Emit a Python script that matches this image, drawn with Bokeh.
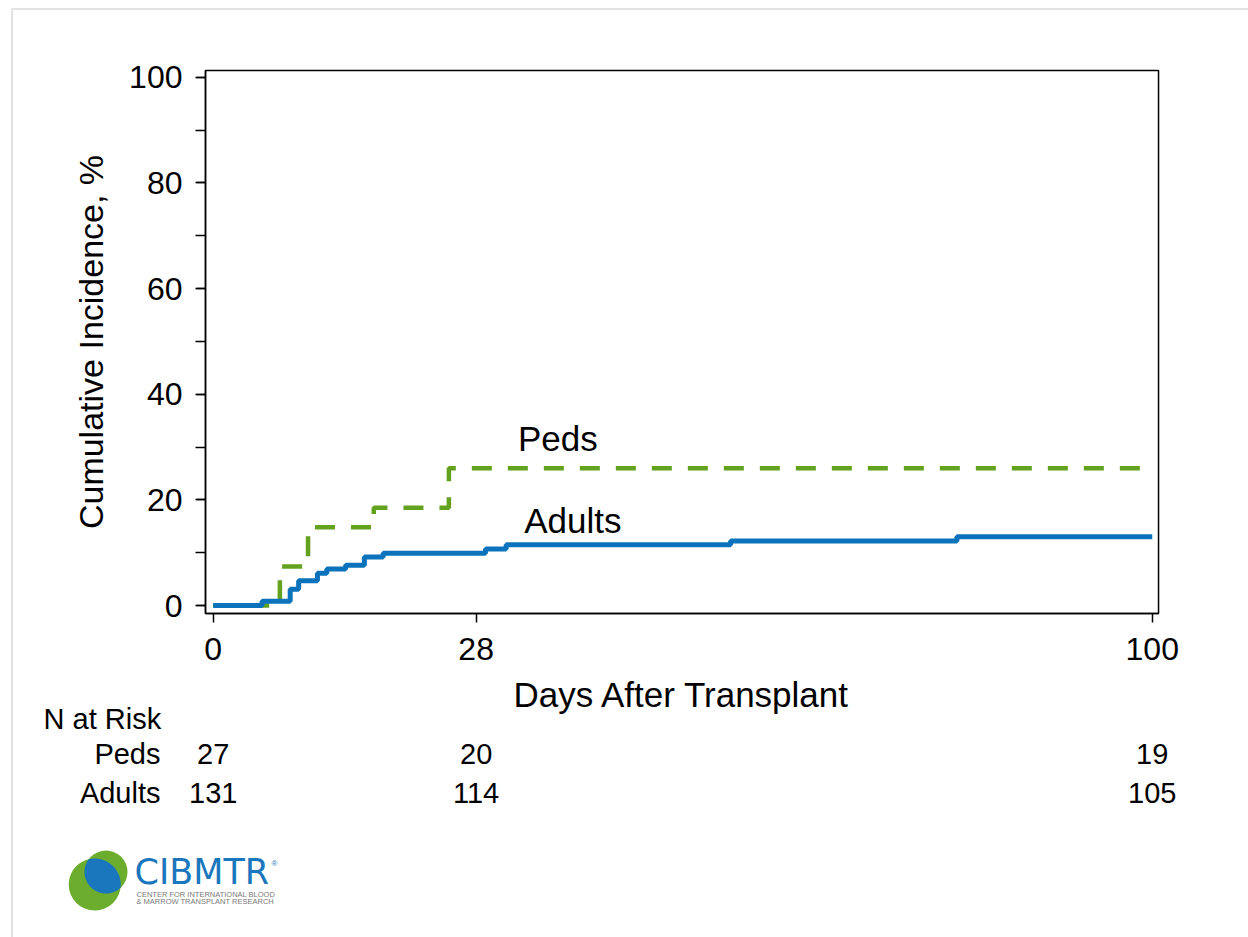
import numpy as np
from bokeh.plotting import figure
from bokeh.models import (Range1d, FixedTicker, SingleIntervalTicker, LabelSet,
                          ColumnDataSource, LinearAxis, BoxAnnotation)
from bokeh.embed import file_html
from bokeh.resources import INLINE
from bokeh.core.properties import value

# ---------------- data ----------------
peds_days = [0, 7.1, 10.1, 17.1, 25.1, 100]
peds_ci = [0, 7.4, 14.8, 18.5, 26.0, 26.0]
adult_days = [0, 5.2, 8.2, 9.1, 11.1, 12.1, 14.1, 16.1, 18.1, 29.0, 31.2, 55.1, 79.2, 100]
adult_ci = [0, 0.8, 3.1, 4.7, 6.1, 6.9, 7.6, 9.2, 9.9, 10.7, 11.5, 12.2, 13.0, 13.0]
x_ticks = [0, 28, 100]
risk_days = [0, 28, 100]
peds_at_risk = [27, 20, 19]
adults_at_risk = [131, 114, 105]
series_names = ["Peds", "Adults"]

FONT = "Liberation Sans"
GREEN = "#62A21F"
BLUE = "#0A73BB"

# plotting area limits (data units)
X0, X1 = -0.82, 100.67
Y0, Y1 = -1.51, 101.27

W, H = 1248, 937
p = figure(width=W, height=H,
           x_range=Range1d(-22.65, 110.25), y_range=Range1d(-62.84, 114.52),
           x_axis_location=None, y_axis_location=None,
           output_backend="svg", toolbar_location=None, min_border=0)
p.extra_x_ranges = {"px": Range1d(0, W)}
p.extra_y_ranges = {"px": Range1d(H, 0)}
p.xgrid.visible = False
p.ygrid.visible = False
p.outline_line_color = None
p.background_fill_color = "white"
p.border_fill_color = "white"


def texts(xs, ys, labels, size, align="left", color="black", font=FONT, px_x=False, px_y=False):
    src = ColumnDataSource(dict(x=list(xs), y=list(ys), t=[str(s) for s in labels]))
    kw = {}
    if px_x:
        kw["x_range_name"] = "px"
    if px_y:
        kw["y_range_name"] = "px"
    p.add_layout(LabelSet(x="x", y="y", text="t", source=src, text_align=align,
                          text_baseline="alphabetic", text_font=value(font),
                          text_font_size=size, text_color=color, **kw))


# slide border (light gray)
p.add_layout(BoxAnnotation(left=11.5, right=W + 20, top=8.5, bottom=H + 20,
                           x_range_name="px", y_range_name="px",
                           fill_alpha=0, line_color="#d9d9d9", line_alpha=1.0,
                           line_width=1.5))

# plot box
p.add_layout(BoxAnnotation(left=X0, right=X1, bottom=Y0, top=Y1,
                           fill_alpha=0, line_color="black", line_alpha=1.0,
                           line_width=1.5, level="underlay"))

p.step(peds_days, peds_ci, mode="after", line_color=GREEN, line_width=4.5,
       line_dash="20 16")
p.step(adult_days, adult_ci, mode="after", line_color=BLUE, line_width=5)

# axes
xa = LinearAxis(fixed_location=Y0, bounds=(X0, X1), ticker=FixedTicker(ticks=x_ticks))
ya = LinearAxis(fixed_location=X0, bounds=(Y0, Y1),
                ticker=SingleIntervalTicker(interval=20, num_minor_ticks=2))
for ax in (xa, ya):
    ax.axis_line_color = "black"
    ax.axis_line_width = 1.5
    ax.major_tick_line_color = "black"
    ax.major_tick_line_width = 1.5
    ax.minor_tick_line_color = "black"
    ax.minor_tick_line_width = 1.5
    ax.major_tick_in = 0
    ax.major_tick_out = 9
    ax.minor_tick_in = 0
    ax.major_label_text_font = FONT
    ax.major_label_text_font_size = "32px"
    ax.major_label_text_color = "black"
    ax.axis_label_text_font = FONT
    ax.axis_label_text_font_style = "normal"
    ax.axis_label_text_color = "black"
xa.axis_label_text_font_size = "35px"
ya.axis_label_text_font_size = "34px"
xa.minor_tick_out = 0
ya.minor_tick_out = 10
xa.major_label_standoff = 16
ya.major_label_standoff = 13
xa.axis_label = "Days After Transplant"
ya.axis_label = "Cumulative Incidence, %"
xa.axis_label_standoff = 11
ya.axis_label_standoff = 16
p.add_layout(xa, "below")
p.add_layout(ya, "left")

# curve labels
texts([36.7], [29.3], [series_names[0]], "35px", align="center")
texts([38.3], [13.8], [series_names[1]], "35px", align="center")

# N at risk table
row_base = [763, 802]
texts([43], [728], ["N at Risk"], "29px", align="left", px_x=True, px_y=True)
texts([160, 160], row_base, series_names, "29px", align="right", px_x=True, px_y=True)
texts(risk_days + risk_days,
      [row_base[0]] * len(risk_days) + [row_base[1]] * len(risk_days),
      peds_at_risk + adults_at_risk, "29px", align="center", px_y=True)

# ---------------- logo (pixel coordinates) ----------------
c1 = np.array([94.2, 884.0]); r1 = 26.0
c2 = np.array([105.5, 871.5]); r2 = 21.5
LG_GREEN = "#6CAD2D"
LG_BLUE = "#1B77BD"
p.circle(x=[c1[0], c2[0]], y=[c1[1], c2[1]], radius=[r1, r2],
         x_range_name="px", y_range_name="px",
         fill_color=LG_GREEN, line_color=None)
th = np.linspace(0, 2 * np.pi, 1441)
pa = np.c_[c1[0] + r1 * np.cos(th), c1[1] + r1 * np.sin(th)]
pb = np.c_[c2[0] + r2 * np.cos(th), c2[1] + r2 * np.sin(th)]
pa = pa[np.hypot(pa[:, 0] - c2[0], pa[:, 1] - c2[1]) <= r2]
pb = pb[np.hypot(pb[:, 0] - c1[0], pb[:, 1] - c1[1]) <= r1]
pts = np.vstack([pa, pb])
cen = pts.mean(axis=0)
order = np.argsort(np.arctan2(pts[:, 1] - cen[1], pts[:, 0] - cen[0]))
pts = pts[order]
p.patch(pts[:, 0], pts[:, 1], x_range_name="px", y_range_name="px",
        fill_color=LG_BLUE, line_color=None)

texts([134], [883.5], ["CIBMTR"], "35px", color=LG_BLUE, font="DejaVu Sans",
      px_x=True, px_y=True)
texts([271], [865], ["®"], "8px", color=LG_BLUE, px_x=True, px_y=True)
texts([136, 136], [896.5, 903.5],
      ["CENTER FOR INTERNATIONAL BLOOD", "& MARROW TRANSPLANT RESEARCH"],
      "7.5px", color="#7a7a7a", px_x=True, px_y=True)

open("out.html", "w").write(file_html(p, INLINE))
